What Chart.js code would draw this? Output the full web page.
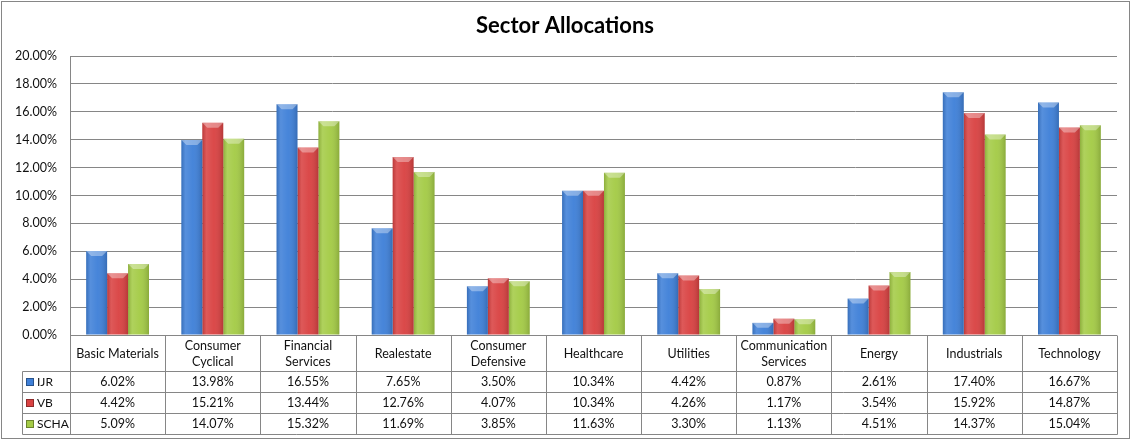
<!DOCTYPE html>
<html>
<head>
<meta charset="utf-8">
<script src="https://cdn.jsdelivr.net/npm/chart.js@4.4.1/dist/chart.umd.min.js"></script>
<style>
html, body { margin: 0; padding: 0; background: #fff; }
#wrap { width: 1132px; height: 441px; }
</style>
</head>
<body>
<div id="wrap"><canvas id="sectorChart" width="1132" height="441"></canvas></div>
<script>
// data
const categories = [
    ["Basic Materials"], ["Consumer", "Cyclical"], ["Financial", "Services"], ["Realestate"],
    ["Consumer", "Defensive"], ["Healthcare"], ["Utilities"], ["Communication", "Services"],
    ["Energy"], ["Industrials"], ["Technology"]
];
const ijrValues = [6.02, 13.98, 16.55, 7.65, 3.50, 10.34, 4.42, 0.87, 2.61, 17.40, 16.67];
const vbValues = [4.42, 15.21, 13.44, 12.76, 4.07, 10.34, 4.26, 1.17, 3.54, 15.92, 14.87];
const schaValues = [5.09, 14.07, 15.32, 11.69, 3.85, 11.63, 3.30, 1.13, 4.51, 14.37, 15.04];
const seriesNames = ["IJR", "VB", "SCHA"];
const seriesColors = ["#3f80d8", "#d94242", "#a4cb46"];
const yMin = 0, yMax = 20, yStep = 2;
const chartTitle = "Sector Allocations";

const FONT = "Lato, 'Open Sans', sans-serif";
const LINE = "#868686";

// 3D-ish shading over each bar
const barShade = {
    id: "barShade",
    afterDatasetsDraw(chart) {
        const ctx = chart.ctx;
        chart.data.datasets.forEach((ds, di) => {
            chart.getDatasetMeta(di).data.forEach(bar => {
                const left = bar.x - bar.width / 2;
                const top = bar.y, h = bar.base - bar.y, w = bar.width;
                if (h <= 0) return;
                ctx.save();
                const g = ctx.createLinearGradient(left, 0, left + w, 0);
                g.addColorStop(0, "rgba(0,0,0,0.14)");
                g.addColorStop(0.2, "rgba(255,255,255,0.12)");
                g.addColorStop(0.55, "rgba(255,255,255,0.04)");
                g.addColorStop(1, "rgba(0,0,0,0.16)");
                ctx.fillStyle = g;
                ctx.fillRect(left, top, w, h);
                const bev = Math.min(5, h / 2);
                ctx.fillStyle = "rgba(255,255,255,0.35)";
                ctx.beginPath();
                ctx.moveTo(left, top);
                ctx.lineTo(left + w, top);
                ctx.lineTo(left + w - bev, top + bev);
                ctx.lineTo(left + bev, top + bev);
                ctx.closePath();
                ctx.fill();
                ctx.restore();
            });
        });
    }
};

// title, outer frame and the data table under the plot
const frameAndTable = {
    id: "frameAndTable",
    afterDraw(chart) {
        const ctx = chart.ctx;
        const a = chart.chartArea;
        const xs = chart.scales.x;
        const n = categories.length;
        const colW = (a.right - a.left) / n;
        const headTop = Math.round(a.bottom) + 0.5;
        const headBot = headTop + 36;
        const rowH = 21;
        const legLeft = 22.5;
        const tableBot = headBot + rowH * seriesNames.length;
        const all = [ijrValues, vbValues, schaValues];

        ctx.save();
        // outer frame
        ctx.strokeStyle = LINE;
        ctx.lineWidth = 1;
        ctx.strokeRect(1.5, 1.5, 1128, 437);

        // title
        ctx.fillStyle = "#000";
        ctx.font = "bold 22px " + FONT;
        ctx.textAlign = "center";
        ctx.textBaseline = "middle";
        ctx.fillText(chartTitle, 565, 26);

        // table lines
        ctx.beginPath();
        ctx.moveTo(a.left, headTop); ctx.lineTo(a.right, headTop);
        for (let r = 0; r <= seriesNames.length; r++) {
            const y = headBot + r * rowH;
            ctx.moveTo(legLeft, y); ctx.lineTo(Math.round(a.right) + 0.5, y);
        }
        for (let i = 0; i <= n; i++) {
            const x = Math.round(a.left + i * colW) + 0.5;
            ctx.moveTo(x, headTop); ctx.lineTo(x, tableBot);
        }
        ctx.moveTo(legLeft, headBot); ctx.lineTo(legLeft, tableBot);
        ctx.stroke();

        // header labels
        ctx.fillStyle = "#111";
        ctx.font = "12.5px " + FONT;
        categories.forEach((lines, i) => {
            const cx = xs.getPixelForValue(i);
            const mid = (headTop + headBot) / 2;
            lines.forEach((t, k) => {
                const y = mid + (k - (lines.length - 1) / 2) * 16;
                ctx.fillText(t, cx, y);
            });
        });

        // rows
        seriesNames.forEach((name, r) => {
            const cy = headBot + r * rowH + rowH / 2;
            ctx.fillStyle = seriesColors[r];
            ctx.fillRect(26, cy - 4, 8, 8);
            ctx.strokeStyle = "rgba(0,0,0,0.35)";
            ctx.strokeRect(26.5, cy - 3.5, 7, 7);
            ctx.fillStyle = "#111";
            ctx.textAlign = "left";
            ctx.font = "12px " + FONT;
            ctx.fillText(name, 37, cy);
            ctx.font = "12.5px " + FONT;
            ctx.textAlign = "center";
            all[r].forEach((v, i) => {
                ctx.fillText(v.toFixed(2) + "%", xs.getPixelForValue(i), cy);
            });
        });
        ctx.restore();
    }
};

const ctx = document.getElementById("sectorChart").getContext("2d");
new Chart(ctx, {
    type: "bar",
    data: {
        labels: categories.map(c => c.join(" ")),
        datasets: [
            { label: seriesNames[0], data: ijrValues, backgroundColor: seriesColors[0] },
            { label: seriesNames[1], data: vbValues, backgroundColor: seriesColors[1] },
            { label: seriesNames[2], data: schaValues, backgroundColor: seriesColors[2] }
        ]
    },
    options: {
        responsive: false,
        animation: false,
        devicePixelRatio: 1,
        layout: { padding: { top: 56, left: 0, right: 15, bottom: 106 } },
        datasets: {
            bar: { categoryPercentage: 0.66, barPercentage: 1.0, borderWidth: 0 }
        },
        plugins: {
            legend: { display: false },
            title: { display: false },
            tooltip: { enabled: false }
        },
        scales: {
            x: { display: false, offset: true },
            y: {
                min: yMin,
                max: yMax,
                afterFit(scale) { scale.width = 70; },
                grid: { color: LINE, drawTicks: false },
                border: { color: LINE },
                ticks: {
                    stepSize: yStep,
                    padding: 13,
                    color: "#111",
                    font: { family: FONT, size: 12.5 },
                    callback: v => v.toFixed(2) + "%"
                }
            }
        }
    },
    plugins: [barShade, frameAndTable]
});
</script>
</body>
</html>
